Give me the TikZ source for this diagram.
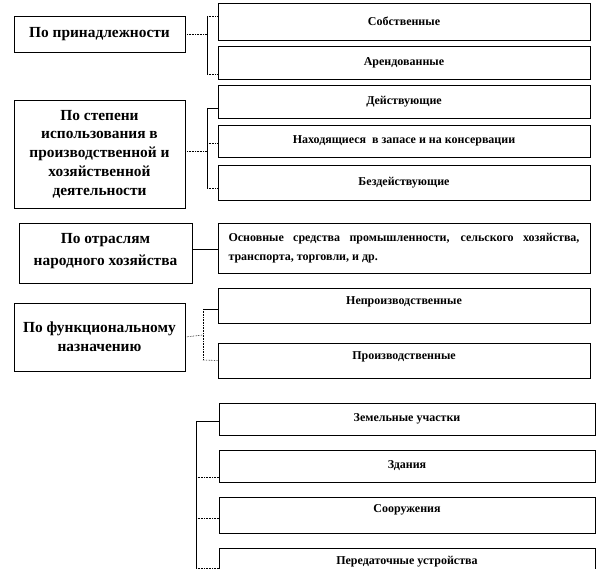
\documentclass[tikz,border=0pt]{standalone}
\usepackage{fontspec}
\setmainfont{Liberation Serif}
\usepackage{tikz}
\tikzset{
  grp/.style={draw=black,line width=0.6pt,fill=white,align=center,inner sep=2pt,font=\fontsize{15.4}{18.75}\selectfont\bfseries},
  kind/.style={draw=black,line width=0.6pt,fill=white,align=center,inner sep=2pt,font=\fontsize{12}{19}\selectfont\bfseries},
  kw/.style={kind,minimum width=372pt},
  kb/.style={kind,minimum width=376pt},
  lnk/.style={densely dotted,line width=0.6pt},
  trk/.style={line width=0.6pt},
}

\begin{document}
\begin{tikzpicture}[x=1pt,y=1pt]
\useasboundingbox (0,0) rectangle (598,-569);
\node[grp,minimum width=171pt,minimum height=36pt] (gOwn) at (99.5,-34) {По принадлежности};
\node[grp,minimum width=171pt,minimum height=108pt] (gUse) at (99.5,-154) {По степени\\использования в\\производственной и\\хозяйственной\\деятельности};
\node[grp,minimum width=173pt,minimum height=60pt,font=\fontsize{15.4}{22}\selectfont\bfseries] (gBranch) at (105.5,-253) {По отраслям\\народного хозяйства\\[-14pt]};
\node[grp,minimum width=171pt,minimum height=68pt] (gFunc) at (99.5,-337) {По функциональному\\назначению};
\node[kw,minimum height=37pt] (kOwn) at (404,-21.5) {Собственные};
\node[kw,minimum height=33pt] (kLeased) at (404,-62.5) {Арендованные};
\node[kw,minimum height=33pt] (kActive) at (404,-101.5) {Действующие};
\node[kw,minimum height=32pt] (kReserve) at (404,-141) {Находящиеся\ \ в запасе и на консервации};
\node[kw,minimum height=35pt] (kIdle) at (404,-182.5) {Бездействующие};
\node[kw,minimum height=50pt,text width=351pt,align=justify] (kBranches) at (404,-248) {Основные средства промышленности, сельского хозяйства, транспорта, торговли, и др.};
\node[kw,minimum height=35pt] (kNonProd) at (404,-305.5) {Непроизводственные\\[-9pt]};
\node[kw,minimum height=35pt] (kProd) at (404,-360.5) {Производственные\\[-9pt]};
\node[kb,minimum height=32pt] (kLand) at (407,-419) {Земельные участки};
\node[kb,minimum height=32pt] (kBuild) at (407,-466) {Здания};
\node[kb,minimum height=36pt] (kStruct) at (407,-515) {Сооружения\\[-7pt]};
\node[kb,minimum height=36pt] (kTrans) at (407,-566) {Передаточные устройства\\[-7pt]};
\coordinate (tOwn) at (207,-34);
\coordinate (tUse) at (207,-151);
\coordinate (tFunc) at (203,-335);
\coordinate (tKind) at (196,-421);
\draw[lnk] (gOwn.east) -- (tOwn);
\draw[trk] (tOwn |- 0,-16) -- (tOwn |- 0,-74);
\draw[lnk] (tOwn |- 0,-16) -- ([yshift=5.5pt]kOwn.west);
\draw[lnk] (tOwn |- 0,-74) -- ([yshift=-11.5pt]kLeased.west);
\draw[lnk] ([yshift=3pt]gUse.east) -- (tUse);
\draw[trk] (tUse |- 0,-108) -- (tUse |- 0,-188);
\draw[trk] (tUse |- 0,-108) -- ([yshift=-6.5pt]kActive.west);
\draw[lnk] (tUse |- 0,-143) -- ([yshift=-2pt]kReserve.west);
\draw[lnk] (tUse |- 0,-188) -- ([yshift=-5.5pt]kIdle.west);
\draw[trk] ([yshift=4pt]gBranch.east) -- ([yshift=-1pt]kBranches.west);
\draw[lnk] (gFunc.east) -- (tFunc);
\draw[lnk] (tFunc |- 0,-309) -- (tFunc |- 0,-360);
\draw[trk] (tFunc |- 0,-309) -- ([yshift=-3.5pt]kNonProd.west);
\draw[lnk] (tFunc |- 0,-360) -- (kProd.west);
\draw[trk] (tKind) -- (tKind |- 0,-575);
\draw[trk] (tKind) -- ([yshift=-2pt]kLand.west);
\draw[lnk] (tKind |- 0,-477) -- ([yshift=-11pt]kBuild.west);
\draw[lnk] (tKind |- 0,-518) -- ([yshift=-3pt]kStruct.west);
\draw[lnk] (tKind |- 0,-568) -- ([yshift=-2pt]kTrans.west);
\end{tikzpicture}
\end{document}
